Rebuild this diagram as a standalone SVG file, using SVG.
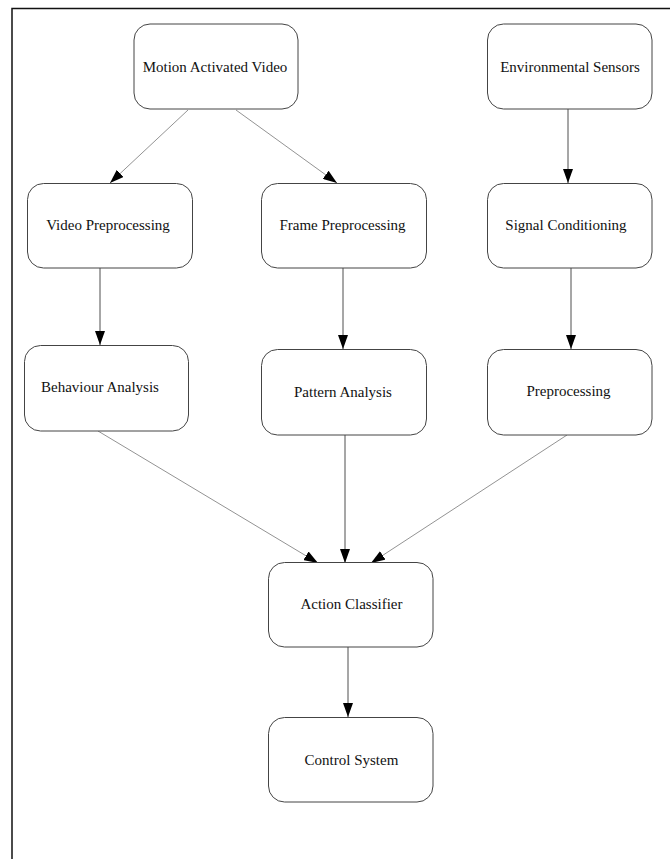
<svg xmlns="http://www.w3.org/2000/svg" width="670" height="859" viewBox="0 0 670 859">
<style>
.n rect{fill:#fff;stroke:#444;stroke-width:1}
.n text{font-family:"Liberation Serif","Times New Roman",serif;font-size:15px;fill:#111;text-anchor:middle}
.e line{stroke:#222;stroke-width:0.8;fill:none}
.e line.d{stroke:#777}
</style>
<defs>
<marker id="ah" viewBox="0 0 14 10" refX="14" refY="5" markerWidth="14" markerHeight="10" markerUnits="userSpaceOnUse" orient="auto">
<path d="M0,0 L14,5 L0,10 Z" fill="#000"/>
</marker>
</defs>
<rect width="670" height="859" fill="#fff"/>
<path d="M12,859 V8.5 H670" fill="none" stroke="#111" stroke-width="1.5"/>
<g class="e">
<line class="d" x1="188" y1="110" x2="110" y2="183" marker-end="url(#ah)"/>
<line class="d" x1="236" y1="110" x2="337" y2="183" marker-end="url(#ah)"/>
<line x1="568" y1="109" x2="568" y2="183" marker-end="url(#ah)"/>
<line x1="100" y1="268" x2="100" y2="345" marker-end="url(#ah)"/>
<line x1="343" y1="268" x2="343" y2="349" marker-end="url(#ah)"/>
<line x1="571" y1="268" x2="571" y2="349" marker-end="url(#ah)"/>
<line class="d" x1="98" y1="431" x2="318" y2="563" marker-end="url(#ah)"/>
<line x1="345" y1="435" x2="345" y2="563" marker-end="url(#ah)"/>
<line class="d" x1="567" y1="435" x2="371" y2="563" marker-end="url(#ah)"/>
<line x1="348" y1="647" x2="348" y2="717" marker-end="url(#ah)"/>
</g>
<g id="motion" class="n"><rect x="134" y="24" width="164" height="85" rx="16"/><text x="215" y="72">Motion Activated Video</text></g>
<g id="env" class="n"><rect x="487.500" y="24" width="164.500" height="85" rx="16"/><text x="570" y="72">Environmental Sensors</text></g>
<g id="videopre" class="n"><rect x="27.500" y="183.500" width="165" height="84.500" rx="16"/><text x="108" y="230">Video Preprocessing</text></g>
<g id="framepre" class="n"><rect x="261.500" y="183.500" width="165" height="84.500" rx="16"/><text x="342.500" y="230">Frame Preprocessing</text></g>
<g id="signal" class="n"><rect x="487.500" y="183.500" width="164.500" height="84.500" rx="16"/><text x="566" y="230">Signal Conditioning</text></g>
<g id="behaviour" class="n"><rect x="24.500" y="345.500" width="164" height="85.500" rx="16"/><text x="100" y="392">Behaviour Analysis</text></g>
<g id="pattern" class="n"><rect x="261.500" y="349.500" width="165" height="85.500" rx="16"/><text x="343" y="397">Pattern Analysis</text></g>
<g id="preproc" class="n"><rect x="487.500" y="349.500" width="164.500" height="85.500" rx="16"/><text x="568.500" y="396">Preprocessing</text></g>
<g id="action" class="n"><rect x="268.500" y="562.500" width="164.500" height="84.500" rx="16"/><text x="351.500" y="609">Action Classifier</text></g>
<g id="control" class="n"><rect x="268.500" y="717.500" width="164.500" height="84.500" rx="16"/><text x="351.500" y="765">Control System</text></g>
</svg>
